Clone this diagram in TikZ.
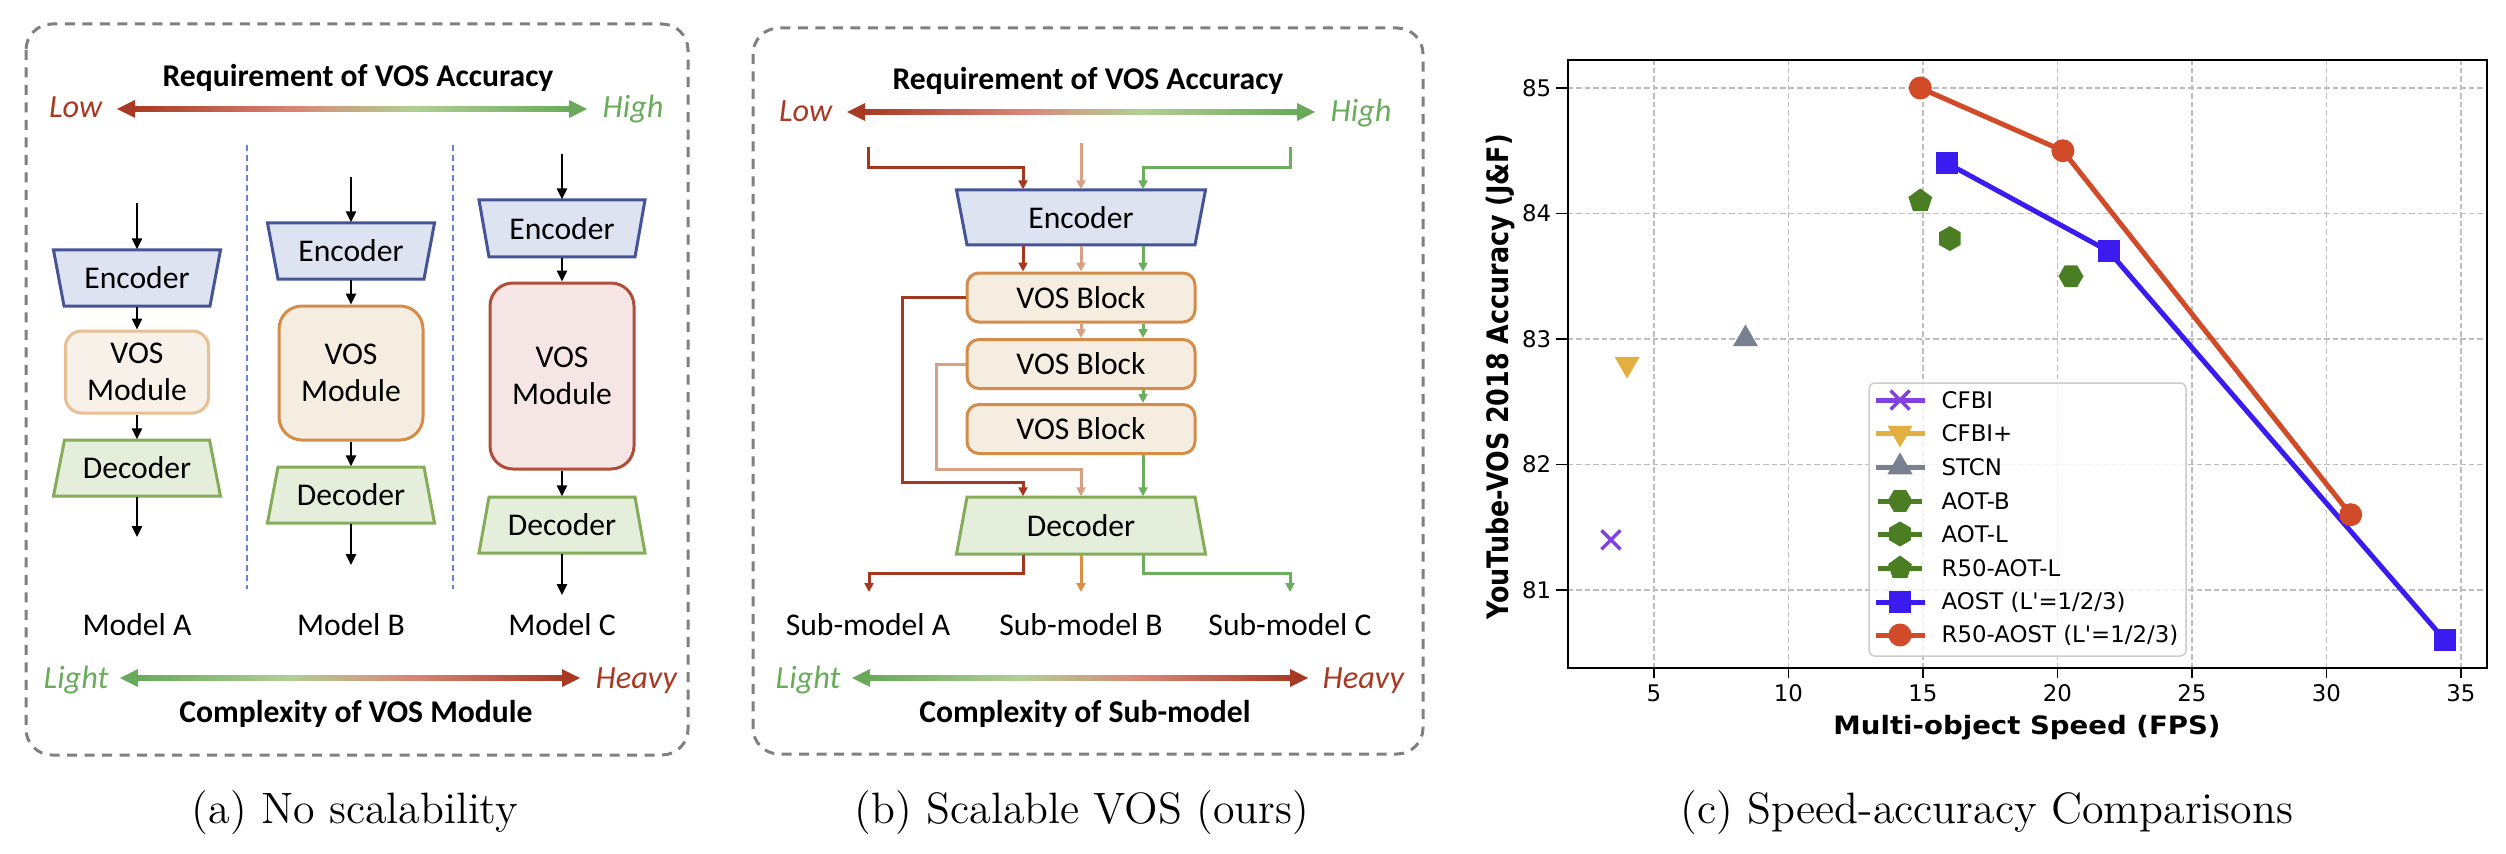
\documentclass[tikz,border=0pt]{standalone}
\usepackage{fontspec}
\newfontfamily\cali{Carlito}
\newfontfamily\dvs{DejaVu Sans}
\usetikzlibrary{shapes.geometric,shapes.misc,arrows.meta}
\definecolor{cRed}{RGB}{168,58,35}
\definecolor{cPink}{RGB}{218,135,120}
\definecolor{cTan}{RGB}{196,172,135}
\definecolor{cPale}{RGB}{178,206,148}
\definecolor{cGreen}{RGB}{104,170,90}
\definecolor{txtRed}{RGB}{168,58,35}
\definecolor{txtGreen}{RGB}{106,172,92}
\definecolor{encDraw}{RGB}{68,84,150}
\definecolor{encFill}{RGB}{221,227,241}
\definecolor{decDraw}{RGB}{133,172,88}
\definecolor{decFill}{RGB}{228,238,218}
\definecolor{vosADraw}{RGB}{232,190,148}
\definecolor{vosAFill}{RGB}{248,241,233}
\definecolor{vosBDraw}{RGB}{212,140,72}
\definecolor{vosBFill}{RGB}{246,237,225}
\definecolor{vosCDraw}{RGB}{176,78,58}
\definecolor{vosCFill}{RGB}{246,229,229}
\definecolor{boxGray}{RGB}{128,128,128}
\definecolor{sepBlue}{RGB}{105,130,215}
\definecolor{lnRed}{RGB}{165,55,30}
\definecolor{lnPale}{RGB}{215,162,132}
\definecolor{lnOrange}{RGB}{220,142,68}
\definecolor{lnGreen}{RGB}{108,174,94}
\definecolor{cfbiC}{RGB}{130,65,225}
\definecolor{cfbipC}{RGB}{227,175,65}
\definecolor{stcnC}{RGB}{120,128,145}
\definecolor{aotC}{RGB}{75,125,35}
\definecolor{aostC}{RGB}{58,28,240}
\definecolor{rfiftyC}{RGB}{210,75,40}
\definecolor{gridC}{RGB}{190,190,190}
\pgfdeclarehorizontalshading{rg}{100bp}{color(0bp)=(cRed); color(25bp)=(cRed); color(44bp)=(cPink); color(50bp)=(cTan); color(57bp)=(cPale); color(75bp)=(cGreen); color(100bp)=(cGreen)}
\pgfdeclarehorizontalshading{gr}{100bp}{color(0bp)=(cGreen); color(25bp)=(cGreen); color(43bp)=(cPale); color(50bp)=(cTan); color(57bp)=(cPink); color(75bp)=(cRed); color(100bp)=(cRed)}
\newcommand\garrow[6]{%
  \shade[shading=#4] (#1+16,-#3-2.8) rectangle (#2-16,-#3+2.8);
  \fill[#5] (#1,-#3) -- (#1+18,-#3+9) -- (#1+18,-#3-9) -- cycle;
  \fill[#6] (#2,-#3) -- (#2-18,-#3+9) -- (#2-18,-#3-9) -- cycle;}
\newcommand\trap[8]{%
  \path[#7] (#2-#4/2,-#3+#6/2) -- (#2+#4/2,-#3+#6/2) -- (#2+#5/2,-#3-#6/2) -- (#2-#5/2,-#3-#6/2) -- cycle;
  \node[txt, inner sep=0pt, minimum width=1mm, minimum height=#6*0.1mm] (#1) at (#2,-#3) {#8};}
\tikzset{
  txt/.style={font=\cali\fontsize{9pt}{10.5pt}\selectfont},
  ttl/.style={font=\cali\bfseries\fontsize{9pt}{10.5pt}\selectfont, inner sep=0pt},
  lowt/.style={font=\cali\itshape\fontsize{9.2pt}{10.5pt}\selectfont, text=txtRed, inner sep=0pt},
  hight/.style={font=\cali\itshape\fontsize{9.2pt}{10.5pt}\selectfont, text=txtGreen, inner sep=0pt},
  captxt/.style={font=\fontsize{12.5pt}{14pt}\selectfont, inner sep=0pt},
  enc/.style={draw=encDraw, fill=encFill, line width=0.3mm},
  dec/.style={draw=decDraw, fill=decFill, line width=0.3mm},
  vosa/.style={txt, draw=vosADraw, fill=vosAFill, line width=0.3mm, rounded corners=1.6mm, align=center},
  vosb/.style={txt, draw=vosBDraw, fill=vosBFill, line width=0.3mm, rounded corners=2.3mm, align=center},
  vosc/.style={txt, draw=vosCDraw, fill=vosCFill, line width=0.3mm, rounded corners=2.3mm, align=center},
  blkbox/.style={txt, draw=vosBDraw, fill=vosBFill, line width=0.3mm, rounded corners=1.2mm, minimum width=22.8mm, minimum height=4.9mm, inner sep=0pt},
  blk/.style={-{Triangle[length=1.1mm,width=1.0mm]}, line width=0.25mm, black},
  cl/.style={-{Triangle[length=0.9mm,width=0.9mm]}, line width=0.3mm},
  dbox/.style={draw=boxGray, line width=0.3mm, dash pattern=on 1mm off 0.75mm, rounded corners=2.6mm},
  sep/.style={draw=sepBlue, line width=0.15mm, dash pattern=on 0.6mm off 0.4mm},
  gridl/.style={draw=gridC, line width=0.13mm, dash pattern=on 0.55mm off 0.3mm},
  tickf/.style={font=\dvs\fontsize{6.5pt}{7.5pt}\selectfont, inner sep=0pt},
  axlab/.style={font=\dvs\bfseries\fontsize{7.2pt}{8.5pt}\selectfont, inner sep=0pt},
  ylabf/.style={font=\dvs\bfseries\fontsize{8.4pt}{9.5pt}\selectfont, inner sep=0pt},
  mk/.style={inner sep=0pt, outer sep=0pt},
  mcirc/.style={mk, circle, fill=rfiftyC, minimum size=2.3mm},
  msq/.style={mk, rectangle, fill=aostC, minimum size=2.2mm},
  mhexa/.style={mk, regular polygon, regular polygon sides=6, fill=aotC, minimum size=2.5mm},
  mhexb/.style={mk, regular polygon, regular polygon sides=6, fill=aotC, minimum size=2.5mm, rotate=30},
  mpent/.style={mk, regular polygon, regular polygon sides=5, fill=aotC, minimum size=2.5mm},
  mtri/.style={mk, regular polygon, regular polygon sides=3, fill=stcnC, minimum size=2.9mm},
  mtrid/.style={mk, regular polygon, regular polygon sides=3, fill=cfbipC, minimum size=2.9mm, rotate=180},
  mx/.style={mk, cross out, draw=cfbiC, line width=0.35mm, minimum size=1.9mm},
}
\begin{document}
\begin{tikzpicture}[x=0.1mm, y=0.1mm]
\useasboundingbox (0,0) rectangle (2506,-854);

% ================= Panel (a) =================
\draw[dbox] (26,-24) rectangle (688,-755);
\node[ttl, anchor=base] (tA) at (358,-87) {Requirement of VOS Accuracy};
\garrow{117}{587}{109}{rg}{cRed}{cGreen}
\node[lowt, anchor=base east] (lowA) at (103,-118) {Low};
\node[hight, anchor=base west] (highA) at (602,-118) {High};
\draw[sep] (247,-145) -- (247,-589);
\draw[sep] (453,-145) -- (453,-589);

\coordinate (inA) at (137,-203);
\trap{encA}{137}{278}{167}{146}{56}{enc}{Encoder}
\node[vosa, minimum width=14.3mm, minimum height=8.2mm] (vosA) at (137,-372) {VOS\\Module};
\trap{decA}{137}{468}{145}{167}{56}{dec}{Decoder}
\coordinate (outA) at (137,-537);
\draw[blk] (inA) -- (encA);
\draw[blk] (encA) -- (vosA);
\draw[blk] (vosA) -- (decA);
\draw[blk] (decA) -- (outA);
\node[txt, anchor=base, inner sep=0pt] (mA) at (137,-635) {Model A};

\coordinate (inB) at (351,-177);
\trap{encB}{351}{251}{167}{146}{56}{enc}{Encoder}
\node[vosb, minimum width=14.4mm, minimum height=13.4mm] (vosB) at (351,-373) {VOS\\Module};
\trap{decB}{351}{495}{146}{167}{56}{dec}{Decoder}
\coordinate (outB) at (351,-565);
\draw[blk] (inB) -- (encB);
\draw[blk] (encB) -- (vosB);
\draw[blk] (vosB) -- (decB);
\draw[blk] (decB) -- (outB);
\node[txt, anchor=base, inner sep=0pt] (mB) at (351,-635) {Model B};

\coordinate (inC) at (562,-154);
\trap{encC}{562}{228.5}{166}{146}{57}{enc}{Encoder}
\node[vosc, minimum width=14.4mm, minimum height=18.6mm] (vosC) at (562,-376) {VOS\\Module};
\trap{decC}{562}{525}{146}{166}{56}{dec}{Decoder}
\coordinate (outC) at (562,-595);
\draw[blk] (inC) -- (encC);
\draw[blk] (encC) -- (vosC);
\draw[blk] (vosC) -- (decC);
\draw[blk] (decC) -- (outC);
\node[txt, anchor=base, inner sep=0pt] (mC) at (562,-635) {Model C};

\garrow{120}{580}{678}{gr}{cGreen}{cRed}
\node[hight, anchor=base west] (lightA) at (43,-688) {Light};
\node[lowt, anchor=base west] (heavyA) at (595,-688) {Heavy};
\node[ttl, anchor=base] (cxA) at (356,-722) {Complexity of VOS Module};
\node[captxt, anchor=base] (capA) at (355,-823) {(a) No scalability};

% ================= Panel (b) =================
\draw[dbox] (753,-28) rectangle (1423,-754);
\node[ttl, anchor=base] (tB) at (1088,-90) {Requirement of VOS Accuracy};
\garrow{847}{1315}{112}{rg}{cRed}{cGreen}
\node[lowt, anchor=base east] (lowB) at (833,-122) {Low};
\node[hight, anchor=base west] (highB) at (1330,-122) {High};

\coordinate (xR) at (1023,0);
\coordinate (xM) at (1081,0);
\coordinate (xG) at (1143,0);
\trap{encS}{1081}{217.5}{249}{228}{55}{enc}{Encoder}
\node[blkbox] (b1) at (1081,-297.5) {VOS Block};
\node[blkbox] (b2) at (1081,-364) {VOS Block};
\node[blkbox] (b3) at (1081,-429) {VOS Block};
\trap{decS}{1081}{525.5}{228}{249}{57}{dec}{Decoder}

\coordinate (sR) at (868,-147);
\coordinate (sM) at (1081,-143);
\coordinate (sG) at (1290,-147);
\coordinate (jR) at (1023,-168);
\coordinate (jG) at (1143,-168);
\draw[cl, lnRed] (sR) |- (jR) -- (encS.north -| xR);
\draw[cl, lnPale] (sM) -- (encS);
\draw[cl, lnGreen] (sG) |- (jG) -- (encS.north -| xG);

\draw[cl, lnRed] (encS.south -| xR) -- (b1.north -| xR);
\draw[cl, lnPale] (encS.south -| xM) -- (b1.north -| xM);
\draw[cl, lnGreen] (encS.south -| xG) -- (b1.north -| xG);
\draw[cl, lnPale] (b1.south -| xM) -- (b2.north -| xM);
\draw[cl, lnGreen] (b1.south -| xG) -- (b2.north -| xG);
\draw[cl, lnGreen] (b2.south -| xG) -- (b3.north -| xG);
\draw[cl, lnGreen] (b3.south -| xG) -- (decS.north -| xG);

\coordinate (rb) at (902,-482);
\coordinate (pb) at (936,-469);
\draw[cl, lnRed] (b1.west) -| (rb) -| (decS.north -| xR);
\draw[cl, lnPale] (b2.west) -| (pb) -| (decS.north -| xM);

\coordinate (oR) at (869,-592);
\coordinate (oM) at (1081,-592);
\coordinate (oG) at (1290,-592);
\draw[cl, lnRed] (decS.south -| xR) -- ++(0,-19) -| (oR);
\draw[cl, lnOrange] (decS.south) -- (oM);
\draw[cl, lnGreen] (decS.south -| xG) -- ++(0,-19) -| (oG);

\node[txt, anchor=base, inner sep=0pt] (smA) at (868,-635) {Sub-model A};
\node[txt, anchor=base, inner sep=0pt] (smB) at (1081,-635) {Sub-model B};
\node[txt, anchor=base, inner sep=0pt] (smC) at (1290,-635) {Sub-model C};

\garrow{852}{1308}{678}{gr}{cGreen}{cRed}
\node[hight, anchor=base west] (lightB) at (775,-688) {Light};
\node[lowt, anchor=base west] (heavyB) at (1322,-688) {Heavy};
\node[ttl, anchor=base] (cxB) at (1085,-722) {Complexity of Sub-model};
\node[captxt, anchor=base] (capB) at (1082,-823) {(b) Scalable VOS (ours)};

% ================= Panel (c) =================
\begin{scope}[shift={(165.4mm,-59mm)}, x=2.69mm, y=12.55mm]
  \foreach \gx in {0,5,...,30} \draw[gridl] (\gx,-0.622) -- (\gx,4.223);
  \foreach \gy in {0,...,4} \draw[gridl] (-3.2,\gy) -- (30.97,\gy);
  \draw[line width=0.2mm] (-3.2,-0.622) rectangle (30.97,4.223);
  \foreach \gx/\lab in {0/5,5/10,10/15,15/20,20/25,25/30,30/35}
    \draw[line width=0.15mm] (\gx,-0.622) -- ++(0,-1mm) node[tickf, below=0.6mm] (xt\lab) {\lab};
  \foreach \gy/\lab in {0/81,1/82,2/83,3/84,4/85}
    \draw[line width=0.15mm] (-3.2,\gy) -- ++(-1.2mm,0) node[tickf, left=0.4mm] (yt\lab) {\lab};
  % lines
  \draw[draw=aostC, line width=0.5mm] (10.9,3.4) -- (16.9,2.7) -- (29.4,-0.4);
  \draw[draw=rfiftyC, line width=0.5mm] (9.9,4.0) -- (15.2,3.5) -- (25.9,0.6);
  % markers
  \node[mx] (pCFBI) at (-1.6,0.4) {};
  \node[mtrid] (pCFBIp) at (-1.0,1.8) {};
  \node[mtri] (pSTCN) at (3.4,2.0) {};
  \node[mhexa] (pAOTB) at (15.5,2.5) {};
  \node[mhexb] (pAOTL) at (11.0,2.8) {};
  \node[mpent] (pRAOTL) at (9.9,3.1) {};
  \node[msq] (pA1) at (10.9,3.4) {};
  \node[msq] (pA2) at (16.9,2.7) {};
  \node[msq] (pA3) at (29.4,-0.4) {};
  \node[mcirc] (pR1) at (9.9,4.0) {};
  \node[mcirc] (pR2) at (15.2,3.5) {};
  \node[mcirc] (pR3) at (25.9,0.6) {};
\end{scope}

% legend
\draw[draw=gray!40, fill=white, fill opacity=0.8, line width=0.15mm, rounded corners=0.6mm] (1869,-383) rectangle (2186,-656);
\draw[cfbiC, line width=0.5mm] (1876,-400) -- (1925,-400);
\node[mx] (lgm1) at (1900,-400) {};
\node[tickf, anchor=west] (lg1) at (1941,-400) {CFBI};
\draw[cfbipC, line width=0.5mm] (1876,-433) -- (1925,-433);
\node[mtrid] (lgm2) at (1900,-433) {};
\node[tickf, anchor=west] (lg2) at (1941,-433) {CFBI+};
\draw[stcnC, line width=0.5mm] (1876,-467) -- (1925,-467);
\node[mtri] (lgm3) at (1900,-467) {};
\node[tickf, anchor=west] (lg3) at (1941,-467) {STCN};
\draw[aotC, line width=0.5mm] (1878,-501) -- (1922,-501);
\node[mhexa] (lgm4) at (1900,-501) {};
\node[tickf, anchor=west] (lg4) at (1941,-501) {AOT-B};
\draw[aotC, line width=0.5mm] (1878,-534) -- (1922,-534);
\node[mhexb] (lgm5) at (1900,-534) {};
\node[tickf, anchor=west] (lg5) at (1941,-534) {AOT-L};
\draw[aotC, line width=0.5mm] (1878,-568) -- (1922,-568);
\node[mpent] (lgm6) at (1900,-568) {};
\node[tickf, anchor=west] (lg6) at (1941,-568) {R50-AOT-L};
\draw[aostC, line width=0.5mm] (1876,-602) -- (1925,-602);
\node[msq] (lgm7) at (1900,-602) {};
\node[tickf, anchor=west] (lg7) at (1941,-602) {AOST (L{\char39}=1/2/3)};
\draw[rfiftyC, line width=0.5mm] (1876,-635) -- (1925,-635);
\node[mcirc] (lgm8) at (1900,-635) {};
\node[tickf, anchor=west] (lg8) at (1941,-635) {R50-AOST (L{\char39}=1/2/3)};

\node[ylabf, rotate=90, xscale=0.86] (ylab) at (1500,-377) {YouTube-VOS 2018 Accuracy (J\&F)};
\node[axlab, xscale=1.09] (xlab) at (2027,-728) {Multi-object Speed (FPS)};
\node[captxt, anchor=base] (capC) at (1987,-823) {(c) Speed-accuracy Comparisons};
\end{tikzpicture}
\end{document}
